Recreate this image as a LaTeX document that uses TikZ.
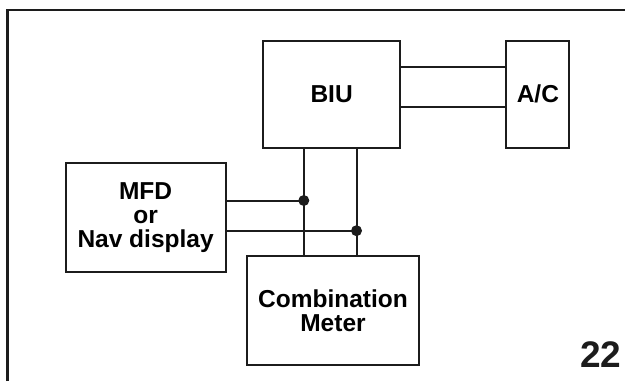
\documentclass[tikz,border=0pt]{standalone}
\usepackage{fontspec}
\setmainfont{Liberation Sans}
\definecolor{inkblack}{RGB}{28,28,28}
\usepackage{tikz}
\usetikzlibrary{positioning,calc}

\begin{document}
\begin{tikzpicture}[x=1pt,y=-1pt,
        unit/.style={draw=inkblack,line width=2pt,align=center,inner sep=0pt,
                     font=\fontsize{24.5}{24}\selectfont\bfseries},
        wire/.style={draw=inkblack,line width=2pt},
        joint/.style={circle,fill=inkblack,inner sep=0pt,minimum size=11pt}]
                \useasboundingbox (0,0) rectangle (625,381);
                % outer frame
                \draw[inkblack,line width=2.5pt] (7.3,381) |- (625,10);
                \node[unit,minimum width=137pt,minimum height=107pt] (biu) at (331.6,94) {BIU};
                \node[unit,minimum width=63pt,minimum height=107pt] (ac) at (537.9,94) {A/C};
                \node[unit,minimum width=160pt,minimum height=109.5pt] (mfd) at (145.6,217.5) {
                    MFD\\
                    or\\
                    Nav display
                };
                \node[unit,minimum width=171.5pt,minimum height=109pt] (meter) at (333,310.5) {
                    Combination\\
                    Meter
                };
                % BIU <-> A/C
                \draw[wire] ([yshift=27.3pt]biu.east) -- ([yshift=27.3pt]ac.west);
                \draw[wire] ([yshift=-13.3pt]biu.east) -- ([yshift=-13.3pt]ac.west);
                % bus lines and taps
                \node[joint] (tapa) at (303.8,200.5) {};
                \node[joint] (tapb) at (356.5,230.7) {};
                \draw[wire] (biu.south -| tapa) -- (meter.north -| tapa);
                \draw[wire] (biu.south -| tapb) -- (meter.north -| tapb);
                \draw[wire] (mfd.east |- tapa) -- (tapa.center);
                \draw[wire] (mfd.east |- tapb) -- (tapb.center);
                \node[anchor=base east,inner sep=0pt,text=inkblack,
                      font=\fontsize{37}{37}\selectfont\bfseries] (pagenum) at (621.5,367) {22};
            \end{tikzpicture}
\end{document}
